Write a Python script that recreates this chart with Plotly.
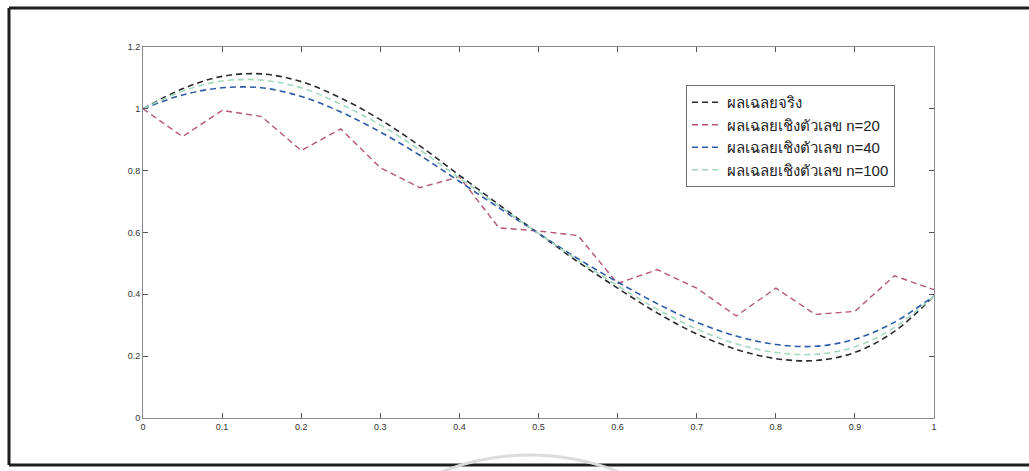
import plotly.graph_objects as go

# ---- data ----
x_exact = [0.00, 0.05, 0.10, 0.15, 0.20, 0.25, 0.30, 0.35, 0.40, 0.45, 0.50,
           0.55, 0.60, 0.65, 0.70, 0.75, 0.80, 0.85, 0.90, 0.95, 1.00]
y_exact = [1.000, 1.065, 1.105, 1.113, 1.088, 1.035, 0.965, 0.880, 0.785, 0.690, 0.597,
           0.505, 0.420, 0.340, 0.272, 0.222, 0.192, 0.186, 0.212, 0.280, 0.395]

x_n20 = [0.00, 0.05, 0.10, 0.15, 0.20, 0.25, 0.30, 0.35, 0.40, 0.45, 0.50,
         0.55, 0.60, 0.65, 0.70, 0.75, 0.80, 0.85, 0.90, 0.95, 1.00]
y_n20 = [1.000, 0.910, 0.995, 0.975, 0.865, 0.935, 0.810, 0.745, 0.780, 0.615, 0.605,
         0.590, 0.435, 0.480, 0.420, 0.330, 0.420, 0.335, 0.345, 0.460, 0.415]

x_n40 = [0.00, 0.05, 0.10, 0.15, 0.20, 0.25, 0.30, 0.35, 0.40, 0.45, 0.50,
         0.55, 0.60, 0.65, 0.70, 0.75, 0.80, 0.85, 0.90, 0.95, 1.00]
y_n40 = [1.000, 1.045, 1.068, 1.068, 1.040, 0.990, 0.925, 0.850, 0.765, 0.680, 0.597,
         0.515, 0.440, 0.370, 0.310, 0.265, 0.238, 0.232, 0.255, 0.310, 0.395]

x_n100 = [0.00, 0.05, 0.10, 0.15, 0.20, 0.25, 0.30, 0.35, 0.40, 0.45, 0.50,
          0.55, 0.60, 0.65, 0.70, 0.75, 0.80, 0.85, 0.90, 0.95, 1.00]
y_n100 = [1.000, 1.057, 1.090, 1.093, 1.068, 1.015, 0.948, 0.867, 0.776, 0.686, 0.597,
          0.510, 0.428, 0.352, 0.288, 0.240, 0.212, 0.206, 0.230, 0.293, 0.395]

names = ["ผลเฉลยจริง", "ผลเฉลยเชิงตัวเลข n=20", "ผลเฉลยเชิงตัวเลข n=40", "ผลเฉลยเชิงตัวเลข n=100"]

x_ticks = [0, 0.1, 0.2, 0.3, 0.4, 0.5, 0.6, 0.7, 0.8, 0.9, 1]
x_ticktext = ["0", "0.1", "0.2", "0.3", "0.4", "0.5", "0.6", "0.7", "0.8", "0.9", "1"]
y_ticks = [0, 0.2, 0.4, 0.6, 0.8, 1.0, 1.2]
y_ticktext = ["0", "0.2", "0.4", "0.6", "0.8", "1", "1.2"]

# ---- figure ----
W, H = 1029, 471
ML, MR, MT, MB = 143, 95, 47, 53
pw, ph = W - ML - MR, H - MT - MB

def px(xp):
    return (xp - ML) / pw

def py(yp):
    return (H - MB - yp) / ph

dash = "6px,4px"
fig = go.Figure()
fig.add_trace(go.Scatter(x=x_exact, y=y_exact, mode="lines", name=names[0],
                         line=dict(color="#2b2b2e", width=1.6, dash=dash, shape="spline")))
fig.add_trace(go.Scatter(x=x_n20, y=y_n20, mode="lines", name=names[1],
                         line=dict(color="#b5537c", width=1.4, dash=dash)))
fig.add_trace(go.Scatter(x=x_n40, y=y_n40, mode="lines", name=names[2],
                         line=dict(color="#2c5aa6", width=1.6, dash=dash, shape="spline")))
fig.add_trace(go.Scatter(x=x_n100, y=y_n100, mode="lines", name=names[3],
                         line=dict(color="#a3d9bb", width=1.6, dash=dash, shape="spline")))

axis_common = dict(showgrid=False, zeroline=False, showline=True, linecolor="#8a8a8e",
                   linewidth=1, mirror="allticks", ticks="inside", ticklen=5,
                   tickcolor="#555", tickfont=dict(family="Liberation Sans, Arial, sans-serif",
                                                   size=9, color="#333"))
fig.update_xaxes(range=[0, 1], tickvals=x_ticks, ticktext=x_ticktext, **axis_common)
fig.update_yaxes(range=[0, 1.2], tickvals=y_ticks, ticktext=y_ticktext, **axis_common)

shapes = [
    # scanned page frame
    dict(type="line", xref="paper", yref="paper", x0=px(9), x1=px(1035), y0=py(8), y1=py(8),
         line=dict(color="#1e1e1e", width=3)),
    dict(type="line", xref="paper", yref="paper", x0=px(9), x1=px(9), y0=py(8), y1=py(465),
         line=dict(color="#1e1e1e", width=3)),
    dict(type="line", xref="paper", yref="paper", x0=px(9), x1=px(1035), y0=py(465), y1=py(465),
         line=dict(color="#1e1e1e", width=3)),
    # faint watermark arc at the bottom
    dict(type="circle", xref="paper", yref="paper", x0=px(289), x1=px(771), y0=py(455), y1=py(937),
         line=dict(color="#dcdcdc", width=3)),
]

fig.update_layout(
    width=W, height=H,
    margin=dict(l=ML, r=MR, t=MT, b=MB),
    paper_bgcolor="white", plot_bgcolor="white",
    shapes=shapes,
    showlegend=True,
    legend=dict(x=px(686), y=py(85), xanchor="left", yanchor="top",
                bgcolor="white", bordercolor="#6a6a7a", borderwidth=1,
                font=dict(family="Liberation Sans, Noto Sans, sans-serif", size=15, color="#222"),
                tracegroupgap=0, itemwidth=30),
)

fig.write_html("out.html")
